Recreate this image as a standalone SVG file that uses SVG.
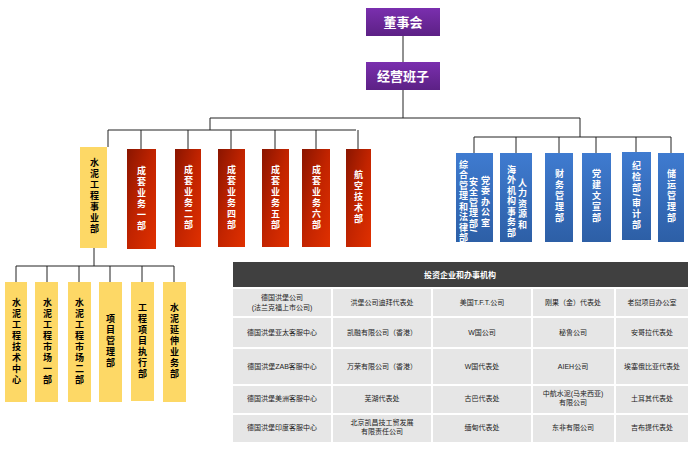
<svg xmlns="http://www.w3.org/2000/svg" width="700" height="451" viewBox="0 0 700 451">
<defs>
<linearGradient id="red" x1="0" y1="0" x2="1" y2="1"><stop offset="0" stop-color="#8a1500"/><stop offset="0.5" stop-color="#c22400"/><stop offset="1" stop-color="#e03000"/></linearGradient>
<linearGradient id="blue" x1="0" y1="0" x2="0" y2="1"><stop offset="0" stop-color="#3f7bd0"/><stop offset="1" stop-color="#2d5fa6"/></linearGradient>
<linearGradient id="purple" x1="0" y1="0" x2="0" y2="1"><stop offset="0" stop-color="#7a2fae"/><stop offset="1" stop-color="#5c2185"/></linearGradient>
<style>
text{font-family:"Liberation Sans","Noto Sans CJK SC",sans-serif;}
.v{writing-mode:vertical-rl;text-anchor:middle;font-size:9px;letter-spacing:2px;font-weight:bold;}
.vs{writing-mode:vertical-rl;text-anchor:start;font-size:9px;letter-spacing:1.5px;font-weight:bold;fill:#fff;}
.w{fill:#fff;}
.k{fill:#000;}
.red{fill:url(#red);}
.yel{fill:#fdd866;}
.blu{fill:url(#blue);}
.pur{fill:url(#purple);}
.ln{stroke:#222;stroke-width:1;fill:none;}
.cell{fill:#e6e6e6;}
.t{font-size:7px;text-anchor:middle;fill:#222;}
</style>
</defs>
<g id="connectors" class="ln">
<path d="M403 36V62M403 90V118M210 118H580M210 118V130M108 130H356M108 130V147M141 130V149M188 130V149M231 130V149M275 130V149M316 130V149M358 130V149"/>
<path d="M580 118V137M474 137H671M474 137V153M516 137V153M559 137V153M596 137V153M636 137V152M671 137V153"/>
<path d="M94 248V266M16 266H174M16 266V282M47 266V282M79 266V282M110 266V282M142 266V282M174 266V282"/>
</g>
<g id="n-board"><rect x="366" y="8" width="74" height="28" class="pur"/><text x="403" y="27" font-size="13" font-weight="bold" text-anchor="middle" class="w">董事会</text></g>
<g id="n-mgmt"><rect x="366" y="62" width="74" height="28" class="pur"/><text x="403" y="81" font-size="13" font-weight="bold" text-anchor="middle" class="w">经营班子</text></g>
<g id="n-cement"><rect x="80" y="147" width="27" height="101" class="yel"/><text x="94" y="197" class="v k">水泥工程事业部</text></g>
<g id="n-r1"><rect x="127" y="149" width="29" height="100" class="red"/><text x="141" y="199" class="v w">成套业务一部</text></g>
<g id="n-r2"><rect x="175" y="149" width="26" height="98" class="red"/><text x="188" y="198" class="v w">成套业务二部</text></g>
<g id="n-r3"><rect x="218" y="149" width="27" height="98" class="red"/><text x="231" y="198" class="v w">成套业务四部</text></g>
<g id="n-r4"><rect x="262" y="149" width="27" height="98" class="red"/><text x="275" y="198" class="v w">成套业务五部</text></g>
<g id="n-r5"><rect x="302" y="149" width="28" height="98" class="red"/><text x="316" y="198" class="v w">成套业务六部</text></g>
<g id="n-r6"><rect x="346" y="149" width="25" height="98" class="red"/><text x="358" y="198" class="v w">航空技术部</text></g>
<g id="n-b1"><rect x="456" y="153" width="37" height="89" class="blu"/><text x="463" y="160" class="vs">综合管理和法律部/</text><text x="473" y="177" class="vs">安全管理部/</text><text x="485" y="176" class="vs">党委办公室</text></g>
<g id="n-b2"><rect x="500" y="153" width="32" height="89" class="blu"/><text x="511" y="165" class="vs">海外机构事务部</text><text x="522" y="178" class="vs">人力资源和</text></g>
<g id="n-b3"><rect x="545" y="153" width="28" height="89" class="blu"/><text x="559" y="197" class="v w">财务管理部</text></g>
<g id="n-b4"><rect x="582" y="153" width="29" height="89" class="blu"/><text x="596" y="197" class="v w">党建文宣部</text></g>
<g id="n-b5"><rect x="622" y="152" width="29" height="88" class="blu"/><text x="636" y="196" class="v w">纪检部/审计部</text></g>
<g id="n-b6"><rect x="658" y="153" width="26" height="89" class="blu"/><text x="671" y="197" class="v w">储运管理部</text></g>
<g id="n-y1"><rect x="5" y="282" width="22" height="120" class="yel"/><text x="16" y="342" class="v k">水泥工程技术中心</text></g>
<g id="n-y2"><rect x="35" y="282" width="23" height="120" class="yel"/><text x="47" y="342" class="v k">水泥工程市场一部</text></g>
<g id="n-y3"><rect x="68" y="282" width="23" height="120" class="yel"/><text x="79" y="342" class="v k">水泥工程市场二部</text></g>
<g id="n-y4"><rect x="99" y="282" width="23" height="120" class="yel"/><text x="110" y="342" class="v k">项目管理部</text></g>
<g id="n-y5"><rect x="131" y="282" width="23" height="119" class="yel"/><text x="142" y="342" class="v k">工程项目执行部</text></g>
<g id="n-y6"><rect x="163" y="282" width="23" height="120" class="yel"/><text x="174" y="342" class="v k">水泥延伸业务部</text></g>
<g id="table">
<rect x="233" y="262" width="455" height="25" fill="#404040"/>
<text x="460" y="278" font-size="8" font-weight="bold" text-anchor="middle" class="w">投资企业和办事机构</text>
<g class="cell">
<rect x="233" y="289" width="98" height="27"/><rect x="333" y="289" width="98" height="27"/><rect x="433" y="289" width="98" height="27"/><rect x="533" y="289" width="81" height="27"/><rect x="616" y="289" width="72" height="27"/>
<rect x="233" y="318" width="98" height="29"/><rect x="333" y="318" width="98" height="29"/><rect x="433" y="318" width="98" height="29"/><rect x="533" y="318" width="81" height="29"/><rect x="616" y="318" width="72" height="29"/>
<rect x="233" y="349" width="98" height="35"/><rect x="333" y="349" width="98" height="35"/><rect x="433" y="349" width="98" height="35"/><rect x="533" y="349" width="81" height="35"/><rect x="616" y="349" width="72" height="35"/>
<rect x="233" y="386" width="98" height="27"/><rect x="333" y="386" width="98" height="27"/><rect x="433" y="386" width="98" height="27"/><rect x="533" y="386" width="81" height="27"/><rect x="616" y="386" width="72" height="27"/>
<rect x="233" y="415" width="98" height="27"/><rect x="333" y="415" width="98" height="27"/><rect x="433" y="415" width="98" height="27"/><rect x="533" y="415" width="81" height="27"/><rect x="616" y="415" width="72" height="27"/>
</g>
<text class="t" x="282" y="300">德国洪堡公司</text><text class="t" x="282" y="310">(法兰克福上市公司)</text>
<text class="t" x="382" y="305">洪堡公司迪拜代表处</text>
<text class="t" x="482" y="305">美国T.F.T.公司</text>
<text class="t" x="573" y="305">刚果（金）代表处</text>
<text class="t" x="652" y="305">老挝项目办公室</text>
<text class="t" x="282" y="335">德国洪堡亚太客服中心</text>
<text class="t" x="382" y="335">凯融有限公司（香港）</text>
<text class="t" x="482" y="335">W国公司</text>
<text class="t" x="573" y="335">秘鲁公司</text>
<text class="t" x="652" y="335">安哥拉代表处</text>
<text class="t" x="282" y="369">德国洪堡ZAB客服中心</text>
<text class="t" x="382" y="369">万荣有限公司（香港）</text>
<text class="t" x="482" y="369">W国代表处</text>
<text class="t" x="573" y="369">AIEH公司</text>
<text class="t" x="652" y="369">埃塞俄比亚代表处</text>
<text class="t" x="282" y="401">德国洪堡美洲客服中心</text>
<text class="t" x="382" y="401">芜湖代表处</text>
<text class="t" x="482" y="401">古巴代表处</text>
<text class="t" x="573" y="396">中航水泥(马来西亚)</text><text class="t" x="573" y="405">有限公司</text>
<text class="t" x="652" y="401">土耳其代表处</text>
<text class="t" x="282" y="430">德国洪堡印度客服中心</text>
<text class="t" x="382" y="425">北京凯昌技工贸发展</text><text class="t" x="382" y="434">有限责任公司</text>
<text class="t" x="482" y="430">缅甸代表处</text>
<text class="t" x="573" y="430">东非有限公司</text>
<text class="t" x="652" y="430">吉布提代表处</text>
</g>
</svg>
